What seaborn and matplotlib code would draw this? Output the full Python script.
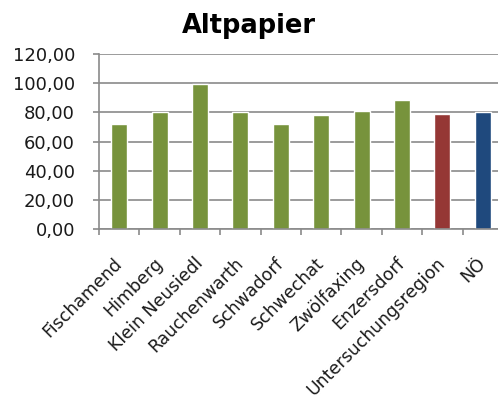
import matplotlib
matplotlib.use("Agg")
import matplotlib.pyplot as plt
from matplotlib.transforms import ScaledTranslation
import seaborn as sns
import pandas as pd

categories = ["Fischamend", "Himberg", "Klein Neusiedl", "Rauchenwarth", "Schwadorf",
              "Schwechat", "Zwölfaxing", "Enzersdorf", "Untersuchungsregion", "NÖ"]
values = [72.0, 80.0, 99.2, 80.0, 72.0, 78.4, 81.0, 88.4, 79.0, 80.0]
bar_colors = ["#77933C"] * 8 + ["#953735", "#1F497D"]
y_ticks = [0, 20, 40, 60, 80, 100, 120]

sns.set_theme(style="white")
plt.rcParams["font.family"] = ["DejaVu Sans"]

df = pd.DataFrame({"Gemeinde": categories, "Wert": values})

fig = plt.figure(figsize=(4.98, 4.03), dpi=100)
ax = fig.add_axes([99 / 498, 1 - 229.3 / 403, 404 / 498, (229.3 - 54) / 403])

sns.barplot(data=df, x="Gemeinde", y="Wert", hue="Gemeinde", palette=bar_colors,
            legend=False, width=0.4, ax=ax, saturation=1)

grid_grey = "#8a8a8a"
ax.set_xlim(-0.5, len(categories) - 0.5)
ax.set_ylim(0, 120)
ax.set_yticks(y_ticks)
ax.set_yticklabels([f"{v:.2f}".replace(".", ",") for v in y_ticks], fontsize=13, color="#1a1a1a")
ax.yaxis.grid(True, color=grid_grey, linewidth=1.2)
ax.set_axisbelow(True)

ax.set_xticks(range(len(categories)))
ax.set_xticklabels(categories, rotation=45, ha="right", rotation_mode="anchor",
                   fontsize=12.5, color="#1a1a1a")
ax.tick_params(axis="x", length=0, pad=10)
ax.tick_params(axis="y", length=4.3, width=1.2, color=grid_grey, left=True, pad=13)

# nudge the slanted category labels down and to the left
shift = ScaledTranslation(-0.06, -0.11, fig.dpi_scale_trans)
for lbl in ax.get_xticklabels():
    lbl.set_transform(lbl.get_transform() + shift)

# category boundary ticks on the x axis
ax.set_xticks([i - 0.5 for i in range(len(categories) + 1)], minor=True)
ax.tick_params(axis="x", which="minor", length=4.3, width=1.2, color=grid_grey, bottom=True)

for side in ["top", "right"]:
    ax.spines[side].set_visible(False)
for side in ["left", "bottom"]:
    ax.spines[side].set_color(grid_grey)
    ax.spines[side].set_linewidth(1.2)

ax.set_xlabel("")
ax.set_ylabel("")
fig.text(0.5, 1 - 33 / 403, "Altpapier", ha="center", va="baseline",
         fontsize=18.5, fontweight="bold", color="black")

fig.savefig("out.png", dpi=100)
